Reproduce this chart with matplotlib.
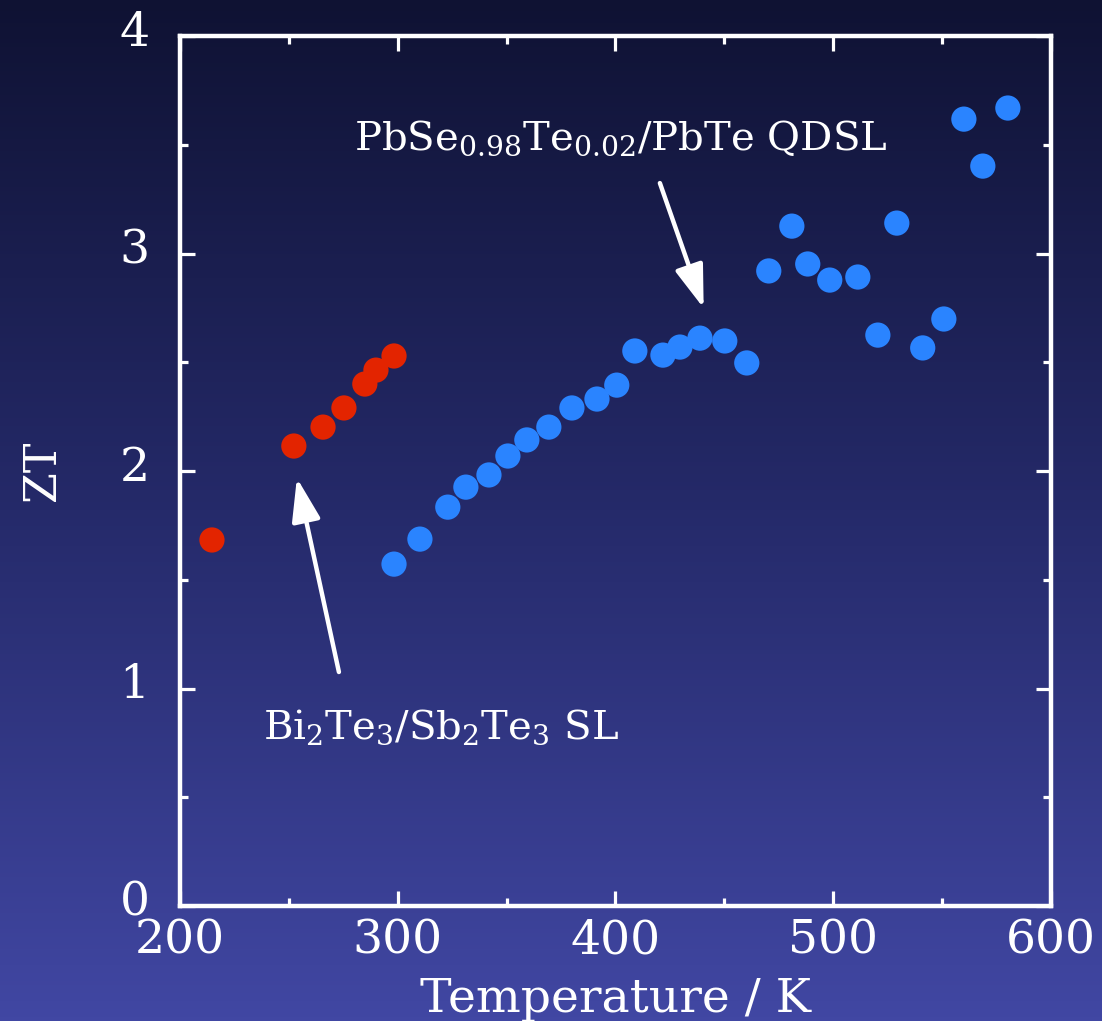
import matplotlib
matplotlib.use("Agg")
import matplotlib.pyplot as plt
import matplotlib.transforms as mtransforms
import numpy as np
from matplotlib.colors import LinearSegmentedColormap
from matplotlib.ticker import MultipleLocator

# Bi2Te3/Sb2Te3 superlattice
bi_T = [214.7, 252.3, 265.7, 275.3, 284.9, 290.0, 298.3]
bi_ZT = [1.683, 2.115, 2.202, 2.290, 2.400, 2.464, 2.529]

# PbSe0.98Te0.02/PbTe quantum dot superlattice
pb_T = [298.3, 310.2, 323.0, 331.3, 341.9, 350.6, 359.3, 369.4, 380.0, 391.5,
        400.6, 408.9, 421.8, 429.6, 438.8, 450.2, 460.3, 470.4, 481.0, 488.3,
        498.4, 511.3, 520.5, 529.2, 541.1, 550.8, 560.0, 568.7, 580.2]
pb_ZT = [1.572, 1.687, 1.834, 1.926, 1.982, 2.069, 2.143, 2.202, 2.290, 2.331,
         2.395, 2.552, 2.533, 2.570, 2.611, 2.598, 2.497, 2.920, 3.126, 2.952,
         2.878, 2.892, 2.625, 3.140, 2.566, 2.699, 3.618, 3.402, 3.669]

plt.rcParams['font.family'] = ['DejaVu Serif']
plt.rcParams['mathtext.fontset'] = 'dejavuserif'

fig = plt.figure(figsize=(11.02, 10.21), dpi=100)

# gradient background
bg = fig.add_axes([0, 0, 1, 1], zorder=-10)
cmap = LinearSegmentedColormap.from_list('bg', ['#0f1233', '#252a6a', '#4147a3'])
bg.imshow(np.linspace(0, 1, 256).reshape(-1, 1), aspect='auto', cmap=cmap,
          extent=[0, 1, 0, 1])
bg.axis('off')

ax = fig.add_axes([0.1633, 0.1126, 0.7904, 0.8521])
ax.patch.set_alpha(0)

ax.scatter(bi_T, bi_ZT, s=330, color='#e32400', edgecolors='none', zorder=3)
ax.scatter(pb_T, pb_ZT, s=330, color='#2a84ff', edgecolors='none', zorder=3)

ax.set_xlim(200, 600)
ax.set_ylim(0, 4)
ax.xaxis.set_major_locator(MultipleLocator(100))
ax.xaxis.set_minor_locator(MultipleLocator(50))
ax.yaxis.set_major_locator(MultipleLocator(1))
ax.yaxis.set_minor_locator(MultipleLocator(0.5))

for s in ax.spines.values():
    s.set_color('white')
    s.set_linewidth(3.2)
ax.tick_params(which='both', direction='in', top=True, right=True,
               colors='white', width=2.3)
ax.tick_params(which='major', length=11, labelsize=34)
ax.tick_params(which='minor', length=5.5)
ax.tick_params(axis='x', which='major', pad=9)
ax.tick_params(axis='y', which='major', pad=22)

# y tick labels sit a little above their ticks in the original
shift = mtransforms.ScaledTranslation(0, 8 / 100, fig.dpi_scale_trans)
for lab in ax.get_yticklabels():
    lab.set_transform(lab.get_transform() + shift)

ax.set_xlabel('Temperature / K', color='white', fontsize=34, labelpad=9)
ax.set_ylabel('ZT', color='white', fontsize=32, labelpad=40)

arrow = dict(arrowstyle='-|>,head_length=1.2,head_width=0.4', color='white',
             lw=3.2, mutation_scale=22, shrinkA=0, shrinkB=0)
ax.annotate('', xy=(253.7, 1.968), xytext=(273.0, 1.076), arrowprops=arrow)
ax.annotate('', xy=(440.5, 2.749), xytext=(420.4, 3.324), arrowprops=arrow)

ax.text(238, 0.77, r'Bi$_2$Te$_3$/Sb$_2$Te$_3$ SL', color='white', fontsize=29,
        ha='left', va='baseline')
ax.text(280, 3.475, r'PbSe$_{0.98}$Te$_{0.02}$/PbTe QDSL', color='white',
        fontsize=29, ha='left', va='baseline')

fig.savefig('out.png', dpi=100)
